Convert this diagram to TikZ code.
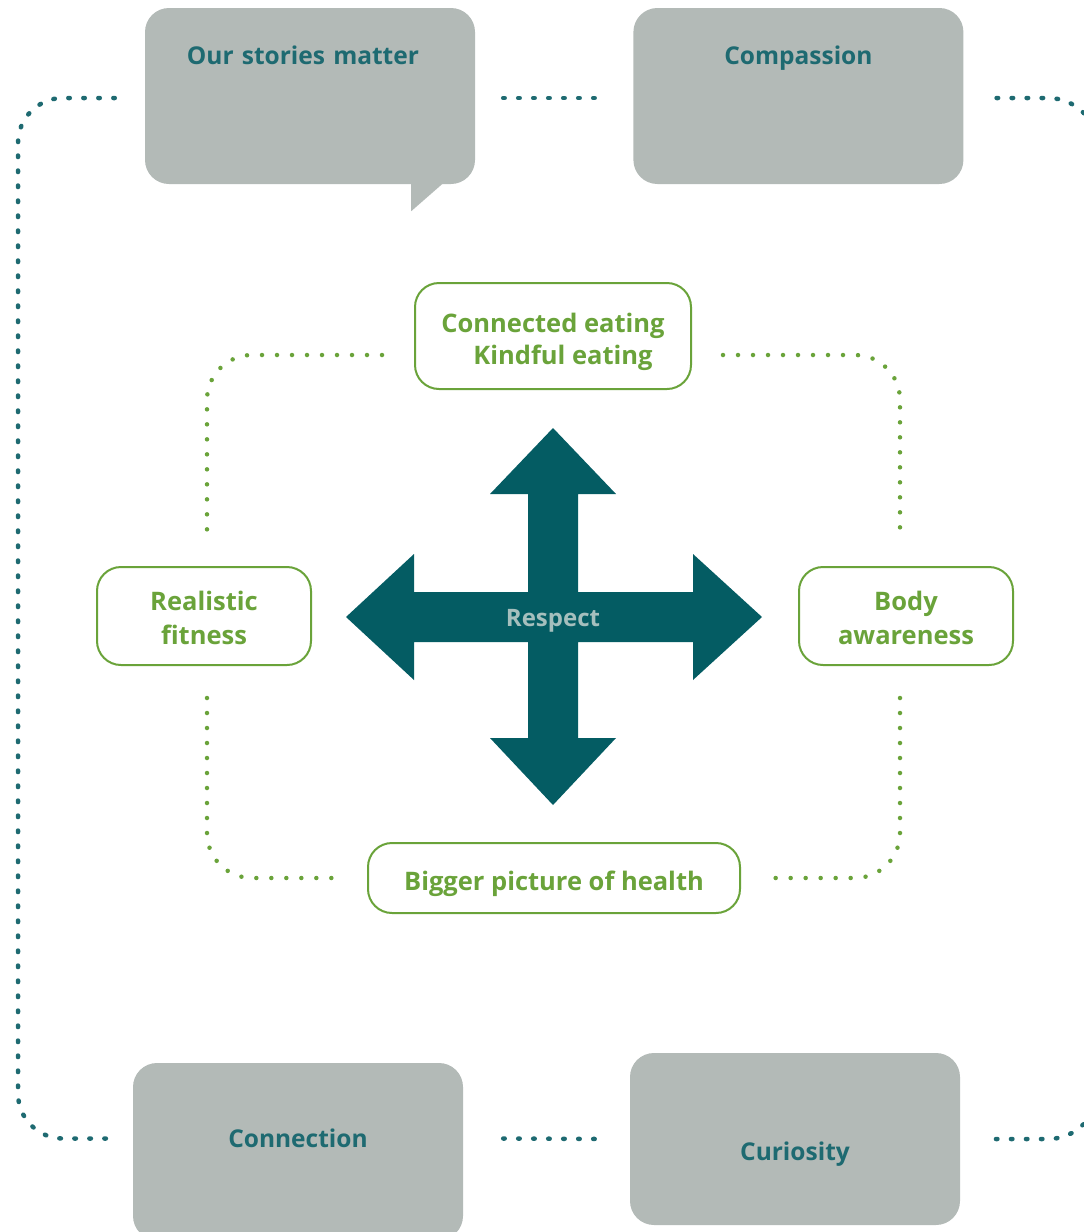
\documentclass[tikz,border=0pt]{standalone}
\usepackage{fontspec}
\setmainfont{Open Sans}
\usetikzlibrary{positioning}

\definecolor{boxgrey}{HTML}{B3BAB7}
\definecolor{tealtext}{HTML}{1E6A71}
\definecolor{crossteal}{HTML}{045C63}
\definecolor{leafgreen}{HTML}{6AA33A}
\definecolor{respectgrey}{HTML}{A5BFBD}

\begin{document}
\begin{tikzpicture}[x=1pt,y=-1pt,
    valuebox/.style={fill=boxgrey,rounded corners=24pt,inner sep=0pt,text width=330pt,align=center,
        font=\bfseries\fontsize{24.5}{28}\selectfont,text=tealtext},
    themebox/.style={draw=leafgreen,line width=2pt,fill=white,rounded corners=24pt,inner sep=0pt,align=center,
        font=\bfseries\fontsize{25.5}{34}\selectfont,text=leafgreen},
    outerdots/.style={draw=tealtext,line width=4.5pt,line cap=round,dash pattern=on 1.5pt off 13.5pt},
    innerdots/.style={draw=leafgreen,line width=4.5pt,line cap=round,dash pattern=on 0pt off 15pt}]

\useasboundingbox (0,0) rectangle (1084,1232);

% values, grey boxes
\node (osm) [valuebox,text height=56pt,text depth=120pt] at (310,96) {\hspace*{-14pt}Our stories matter};
\node (comp) [valuebox,text height=56pt,text depth=120pt,right=158pt of osm] {Compassion};
\node (conn) [valuebox,text height=84pt,text depth=93pt] at (298,1151.5) {Connection};
\node (cur) [valuebox,text height=107pt,text depth=65pt] at (795,1139) {Curiosity};
\fill [boxgrey] ([xshift=-64pt,yshift=1pt]osm.south east) -- ++(0,28) -- ++(32,-28) -- cycle;

% outer loop
\draw [outerdots,rounded corners=45pt] ([xshift=-30pt,yshift=-2pt]osm.west) -| (18,600) |- ([xshift=-18pt,yshift=13pt]conn.west);
\draw [outerdots] ([xshift=28pt,yshift=-2pt]osm.east) -- ([xshift=-28pt,yshift=-2pt]comp.west);
\draw [outerdots,rounded corners=50pt] ([xshift=33pt,yshift=-2pt]comp.east) -| (1098,600) |- ([xshift=33pt]cur.east);
\draw [outerdots] ([xshift=40pt,yshift=13pt]conn.east) -- ([xshift=-25pt]cur.west);

% the cross
\coordinate (cross) at (553,617);
\fill [crossteal,shift={(cross)}] (0,-189) -- (63,-123) -- (25,-123) -- (25,-25) -- (140,-25) -- (140,-63)
    -- (209,0) -- (140,63) -- (140,25) -- (25,25) -- (25,121) -- (63,121) -- (0,188) -- (-63,121)
    -- (-25,121) -- (-25,25) -- (-139,25) -- (-139,63) -- (-207,0) -- (-139,-63) -- (-139,-25)
    -- (-25,-25) -- (-25,-123) -- (-63,-123) -- cycle;
\node (resp) [font=\bfseries\fontsize{24}{28}\selectfont,text=respectgrey] at ([yshift=-4pt]cross) {Respect};

% themes, green boxes
\node (ce) [themebox,minimum width=276pt,minimum height=106pt] at (553,336) {\rule{0pt}{31pt}Connected eating\\[-2pt]\hspace{20pt}Kindful eating};
\node (rf) [themebox,minimum width=214pt,minimum height=98pt] at (204,616) {\rule{0pt}{24pt}Realistic\\fitness};
\node (ba) [themebox,minimum width=214pt,minimum height=98pt] at (906,616) {\rule{0pt}{24pt}Body\\awareness};
\node (bp) [themebox,minimum width=372pt,minimum height=70pt,text height=31pt,text depth=7pt] at (554,878) {Bigger picture of health};

% inner loop
\draw [innerdots,rounded corners=45pt] ([xshift=-32pt,yshift=-19pt]ce.west) -| ([xshift=3pt,yshift=30pt]rf.north);
\draw [innerdots,rounded corners=45pt] ([xshift=31pt,yshift=-19pt]ce.east) -| ([xshift=-6pt,yshift=30pt]ba.north);
\draw [innerdots,rounded corners=45pt] ([xshift=3pt,yshift=-32pt]rf.south) |- ([xshift=-31pt]bp.west);
\draw [innerdots,rounded corners=45pt] ([xshift=-6pt,yshift=-32pt]ba.south) |- ([xshift=28pt]bp.east);

\end{tikzpicture}
\end{document}
